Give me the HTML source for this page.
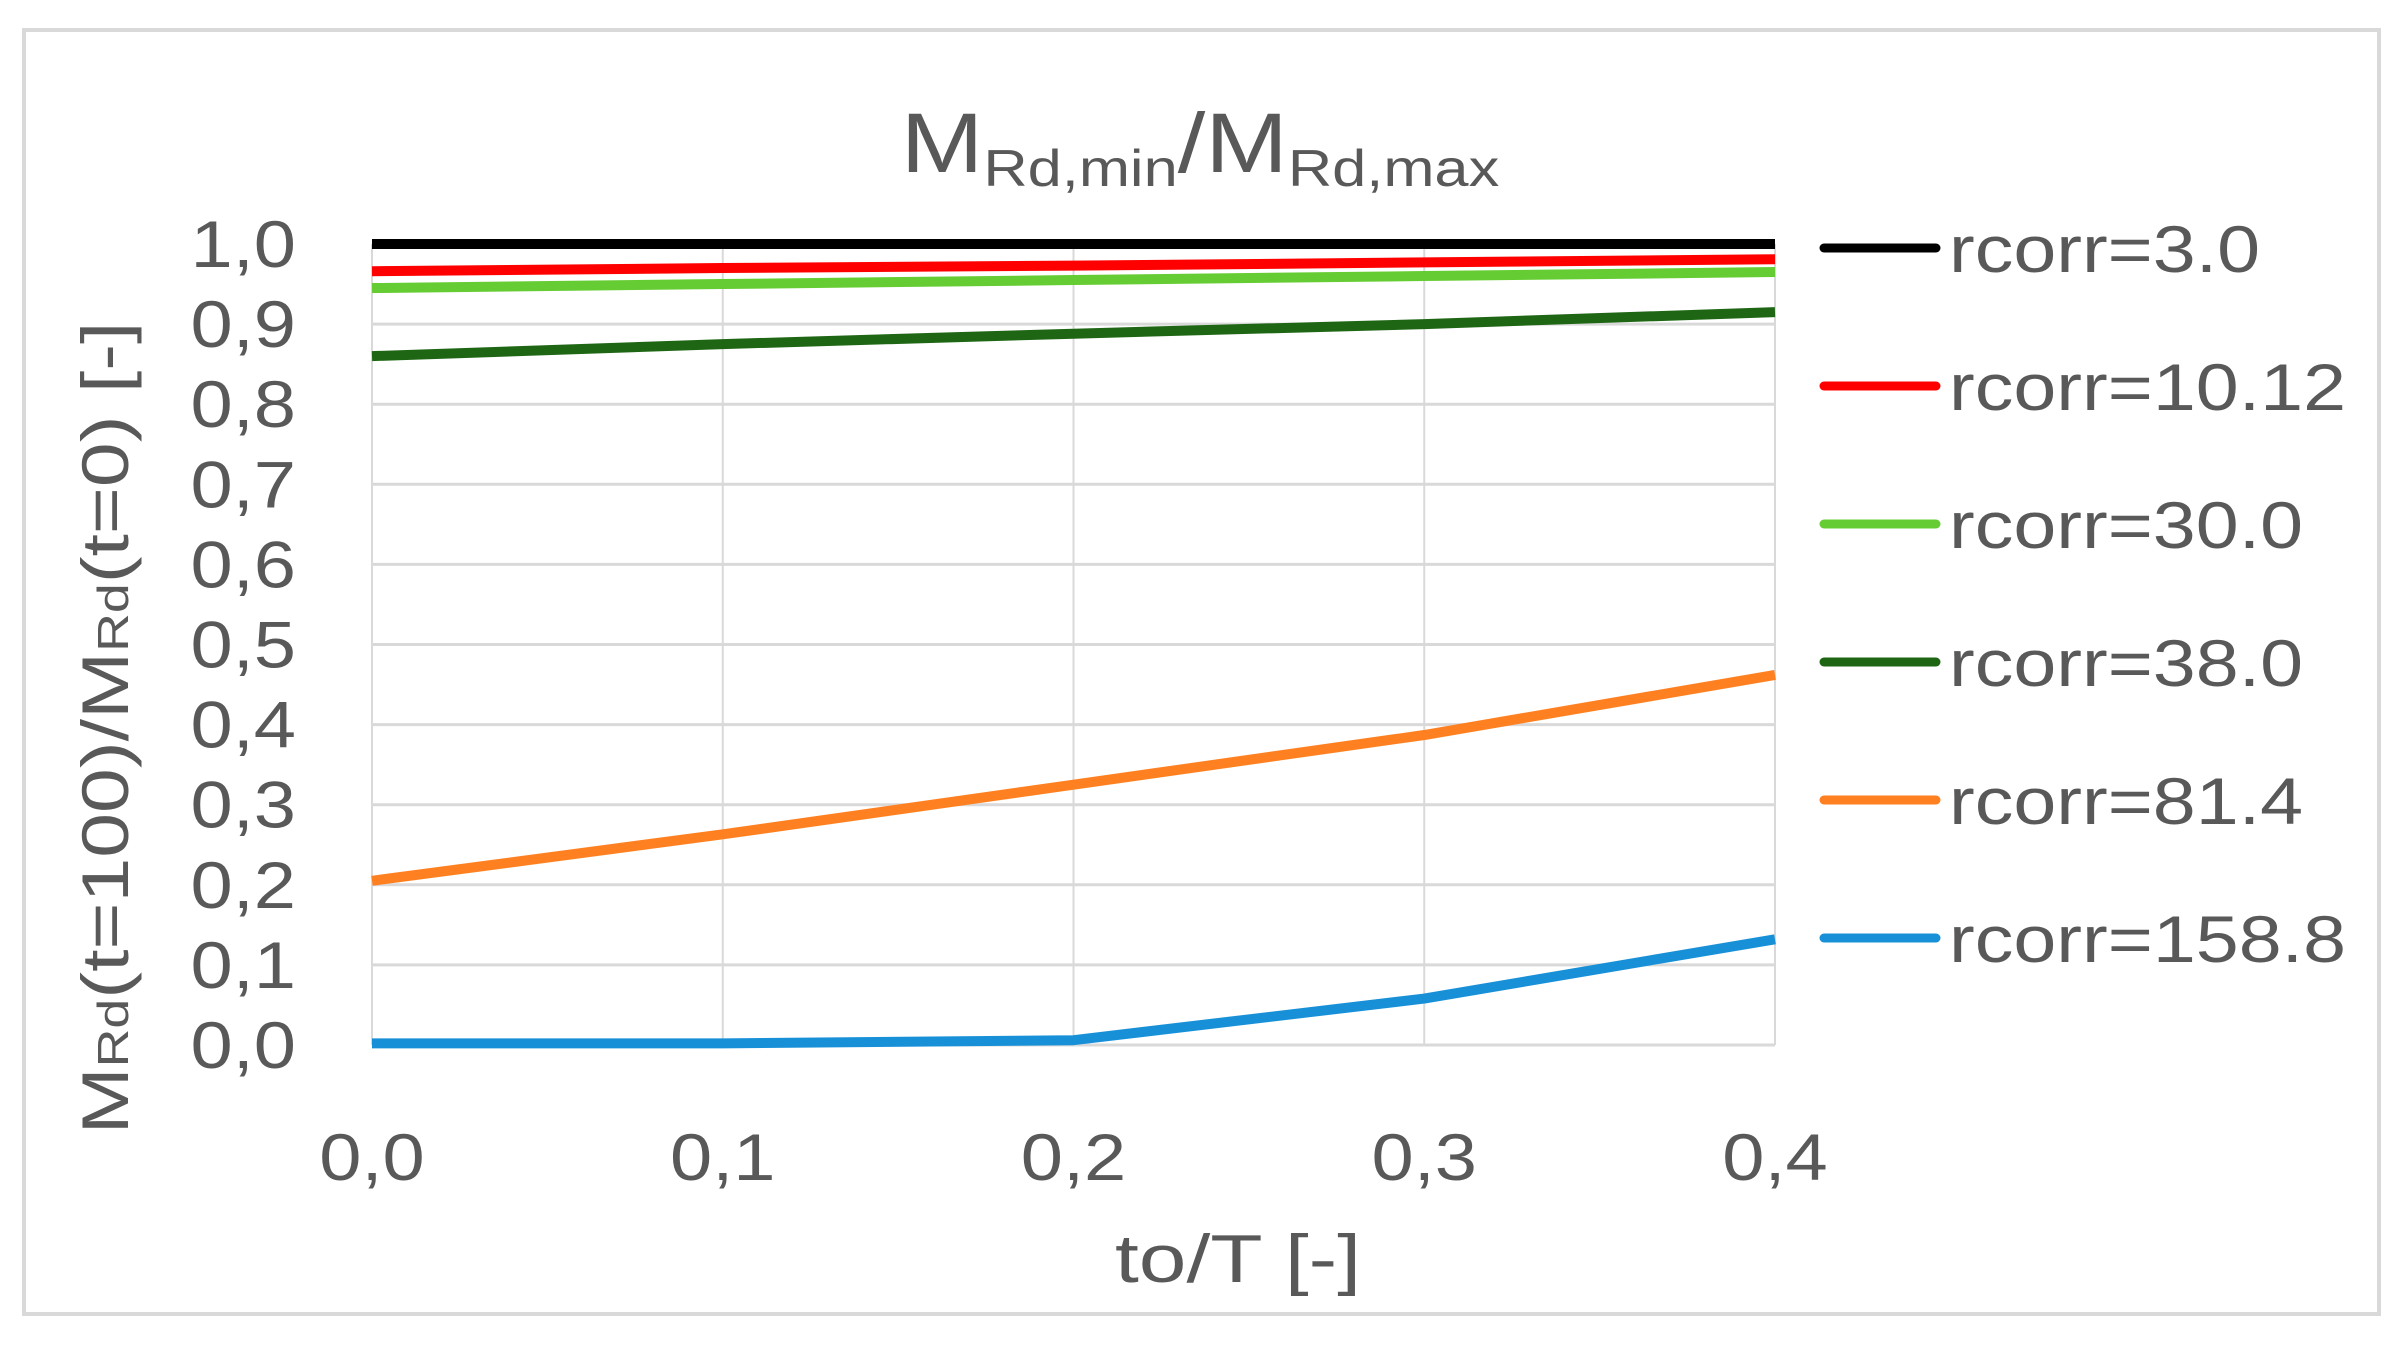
<!DOCTYPE html>
<html><head><meta charset="utf-8"><style>
html,body{margin:0;padding:0;background:#fff;}
svg{display:block;font-family:"Liberation Sans",sans-serif;}
</style></head><body>
<svg id="chart" width="2403" height="1345" viewBox="0 0 2403 1345" xmlns="http://www.w3.org/2000/svg">
<rect x="24" y="30" width="2355" height="1284" fill="#fff" stroke="#d9d9d9" stroke-width="4"/>
<text data-stretch="1.18" x="1200" y="172" text-anchor="middle" fill="#595959" font-size="84">M<tspan font-size="52" dy="14">Rd,min</tspan><tspan dy="-14">/M</tspan><tspan font-size="52" dy="14">Rd,max</tspan></text>
<g id="grid"></g>
<g id="series"></g>
<g id="yticks"></g>
<g id="xticks"></g>
<text data-stretch="1.26" x="1238" y="1282" text-anchor="middle" fill="#595959" font-size="68">to/T [-]</text>
<text data-stretch="1.22" transform="translate(128,728) rotate(-90)" text-anchor="middle" fill="#595959" font-size="66">M<tspan font-size="44">Rd</tspan>(t=100)/M<tspan font-size="44">Rd</tspan>(t=0) [-]</text>
<g id="legend"></g>
</svg>
<script>
const xValues = [0, 0.1, 0.2, 0.3, 0.4];
const seriesNames = ["rcorr=3.0","rcorr=10.12","rcorr=30.0","rcorr=38.0","rcorr=81.4","rcorr=158.8"];
const seriesColors = ["#000000","#ff0000","#66cc33","#1e6614","#ff8020","#1890d8"];
const s1 = [1.0, 1.0, 1.0, 1.0, 1.0];
const s2 = [0.966, 0.970, 0.973, 0.977, 0.981];
const s3 = [0.945, 0.950, 0.955, 0.960, 0.965];
const s4 = [0.860, 0.875, 0.888, 0.900, 0.915];
const s5 = [0.205, 0.263, 0.325, 0.387, 0.462];
const s6 = [0.002, 0.002, 0.006, 0.058, 0.132];
const yTicks = [0,0.1,0.2,0.3,0.4,0.5,0.6,0.7,0.8,0.9,1.0];
const xTicks = [0,0.1,0.2,0.3,0.4];
const allSeries = [s1,s2,s3,s4,s5,s6];
const NS="http://www.w3.org/2000/svg";
const L=372,R=1775,T=244,B=1045;
function xs(v){return L+(v-0)/(0.4-0)*(R-L);}
function ys(v){return B-(v-0)/(1-0)*(B-T);}
function mk(tag,attrs,parent){const e=document.createElementNS(NS,tag);for(const k in attrs)e.setAttribute(k,attrs[k]);parent.appendChild(e);return e;}
const grid=document.getElementById('grid');
yTicks.forEach(v=>{const l=mk('line',{x1:L,x2:R,y1:ys(v),y2:ys(v),stroke:'#d9d9d9','stroke-width':3},grid);

});
xTicks.forEach(v=>{const l=mk('line',{x1:xs(v),x2:xs(v),y1:T,y2:B,stroke:'#d9d9d9','stroke-width':2},grid);

});
const yt=document.getElementById('yticks');
yTicks.forEach(v=>{const t=mk('text',{x:296,y:ys(v)+23,'text-anchor':'end','font-size':66,fill:'#595959','data-stretch':'1.15'},yt);t.textContent=v.toFixed(1).replace('.',',');

});
const xt=document.getElementById('xticks');
xTicks.forEach(v=>{const t=mk('text',{x:xs(v),y:1180,'text-anchor':'middle','font-size':66,fill:'#595959','data-stretch':'1.15'},xt);t.textContent=v.toFixed(1).replace('.',',');

});
const sg=document.getElementById('series');
allSeries.forEach((s,i)=>{const pts=s.map((v,j)=>xs(xValues[j])+','+ys(v)).join(' ');
const p=mk('polyline',{points:pts,fill:'none',stroke:seriesColors[i],'stroke-width':10,'stroke-linejoin':'round'},sg);

});
const lg=document.getElementById('legend');
seriesNames.forEach((n,i)=>{const y=248+i*138;
const l=mk('line',{x1:1824,x2:1936,y1:y,y2:y,stroke:seriesColors[i],'stroke-width':9,'stroke-linecap':'round'},lg);


const t=mk('text',{x:1949,y:y+24,'font-size':66,fill:'#595959','data-stretch':'1.17'},lg);t.textContent=n;

});
document.querySelectorAll('text[data-stretch]').forEach(t=>{const f=parseFloat(t.getAttribute('data-stretch'));const w=t.getComputedTextLength();t.setAttribute('textLength',(w*f).toFixed(1));t.setAttribute('lengthAdjust','spacingAndGlyphs');});
</script>
</body></html>
